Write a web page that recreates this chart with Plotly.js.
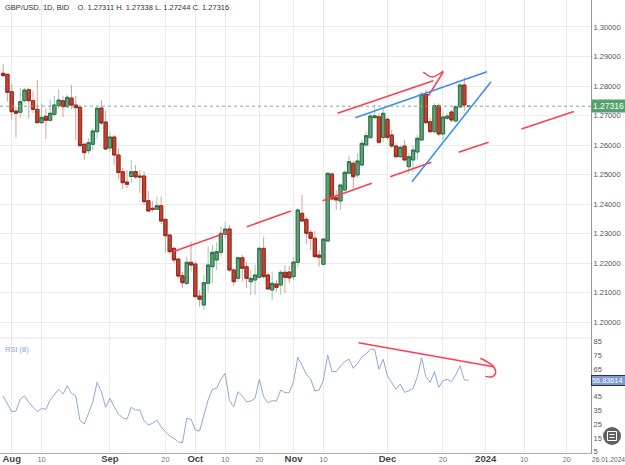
<!DOCTYPE html>
<html>
<head>
<meta charset="utf-8">
<script src="https://cdn.plot.ly/plotly-3.0.1.min.js"></script>
<style>
html,body{margin:0;padding:0;background:#fff;}
#chart{width:625px;height:465px;}
</style>
</head>
<body>
<div id="chart"></div>
<script>
// ---- Data ----
const dates = [
'2023-07-28','2023-07-31',
'2023-08-01','2023-08-02','2023-08-03','2023-08-04','2023-08-07','2023-08-08','2023-08-09','2023-08-10','2023-08-11',
'2023-08-14','2023-08-15','2023-08-16','2023-08-17','2023-08-18','2023-08-21','2023-08-22','2023-08-23','2023-08-24','2023-08-25',
'2023-08-28','2023-08-29','2023-08-30','2023-08-31',
'2023-09-01','2023-09-04','2023-09-05','2023-09-06','2023-09-07','2023-09-08','2023-09-11','2023-09-12','2023-09-13','2023-09-14','2023-09-15',
'2023-09-18','2023-09-19','2023-09-20','2023-09-21','2023-09-22','2023-09-25','2023-09-26','2023-09-27','2023-09-28','2023-09-29',
'2023-10-02','2023-10-03','2023-10-04','2023-10-05','2023-10-06','2023-10-09','2023-10-10','2023-10-11','2023-10-12','2023-10-13',
'2023-10-16','2023-10-17','2023-10-18','2023-10-19','2023-10-20','2023-10-23','2023-10-24','2023-10-25','2023-10-26','2023-10-27',
'2023-10-30','2023-10-31',
'2023-11-01','2023-11-02','2023-11-03','2023-11-06','2023-11-07','2023-11-08','2023-11-09','2023-11-10','2023-11-13','2023-11-14',
'2023-11-15','2023-11-16','2023-11-17','2023-11-20','2023-11-21','2023-11-22','2023-11-23','2023-11-24','2023-11-27','2023-11-28',
'2023-11-29','2023-11-30',
'2023-12-01','2023-12-04','2023-12-05','2023-12-06','2023-12-07','2023-12-08','2023-12-11','2023-12-12','2023-12-13','2023-12-14',
'2023-12-15','2023-12-18','2023-12-19','2023-12-20','2023-12-21','2023-12-22','2023-12-25','2023-12-26','2023-12-27','2023-12-28'
];
const open = [1.28431,1.28397,
1.27807,1.27153,1.27108,1.27502,1.27875,1.27502,1.27210,1.26756,1.26973,
1.26837,1.27041,1.27332,1.27502,1.27298,1.27593,1.27356,1.27278,1.26024,1.25807,
1.26024,1.26451,1.27254,1.26780,
1.25898,1.26271,1.25661,1.25095,1.24746,1.24932,1.25102,1.24949,1.24949,1.24112,1.23854,
1.23820,1.23942,1.23481,1.22949,1.22498,1.22136,1.21569,1.21312,1.22024,1.21966,
1.20881,1.20576,1.21312,1.21875,1.22102,1.22363,1.22973,1.23153,1.21763,1.21481,
1.22180,1.21875,1.21366,1.21424,1.21515,1.22498,1.21593,1.21085,1.21288,1.21254,
1.21685,1.21695,
1.21536,1.22024,1.23685,1.23481,1.23041,1.22837,1.22271,1.21956,1.22746,1.25017,
1.24214,1.24102,1.24475,1.25041,1.25380,1.24983,1.25322,1.26000,1.26248,1.26925,
1.26959,1.26254,
1.26871,1.26339,1.25966,1.25603,1.25966,1.25264,1.25492,1.25763,1.26169,1.27719,
1.26790,1.26451,1.27332,1.26373,1.26905,1.27119,1.26814,1.27288,1.28034,1.27311];
const high = [1.28746,1.28407,
1.28058,1.27298,1.27942,1.27942,1.27922,1.27831,1.28203,1.27414,1.27244,
1.27549,1.27671,1.27888,1.27671,1.27695,1.28034,1.27671,1.27356,1.26092,1.26227,
1.26566,1.27298,1.27525,1.27153,
1.26441,1.26339,1.25888,1.25220,1.25153,1.25492,1.25322,1.25153,1.25095,1.24451,1.24112,
1.24248,1.24248,1.23492,1.22983,1.22553,1.22169,1.21705,1.22214,1.22722,1.22034,
1.21085,1.21593,1.22553,1.22610,1.22702,1.23231,1.23400,1.23288,1.21831,1.22214,
1.22271,1.22034,1.21763,1.21932,1.22553,1.22892,1.21661,1.21705,1.21424,1.21763,
1.21932,1.21898,
1.22203,1.23854,1.24305,1.23559,1.23119,1.23085,1.22441,1.22847,1.25075,1.25068,
1.24475,1.24702,1.25153,1.25637,1.25468,1.25719,1.26169,1.26451,1.27075,1.27356,
1.27075,1.27244,
1.26949,1.26508,1.26068,1.26000,1.26169,1.25729,1.26000,1.26339,1.27807,1.27864,
1.26915,1.27414,1.27414,1.27129,1.27075,1.27186,1.27356,1.28092,1.28305,1.27338];
const low = [1.28315,1.27468,
1.26847,1.26248,1.26905,1.27447,1.26905,1.27075,1.26736,1.26712,1.26203,
1.26790,1.26959,1.27244,1.26939,1.27244,1.27210,1.26169,1.25942,1.25492,1.25695,
1.25831,1.26227,1.26678,1.25831,
1.25763,1.25322,1.24847,1.24508,1.24542,1.24712,1.24864,1.24373,1.23966,1.23739,1.23739,
1.23797,1.23322,1.22339,1.22305,1.21990,1.21481,1.21142,1.21254,1.21705,1.20837,
1.20519,1.20407,1.21027,1.21312,1.21763,1.22214,1.22837,1.21705,1.21231,1.21366,
1.21366,1.21142,1.20915,1.20915,1.21481,1.21481,1.21085,1.20746,1.21027,1.20915,
1.20983,1.21322,
1.21424,1.21875,1.23390,1.22634,1.22441,1.22193,1.21875,1.21932,1.22722,1.24136,
1.23797,1.23797,1.24417,1.25017,1.24532,1.24881,1.25264,1.25942,1.26227,1.26915,
1.26024,1.26112,
1.26169,1.25888,1.25549,1.25549,1.25434,1.25041,1.25085,1.25492,1.26136,1.26712,
1.26407,1.26397,1.26305,1.26169,1.26847,1.26780,1.26780,1.27244,1.27153,1.27244];
const close = [1.28349,1.27786,
1.27129,1.27075,1.27468,1.27864,1.27502,1.27210,1.26756,1.26939,1.26837,
1.27075,1.27356,1.27525,1.27298,1.27617,1.27356,1.27264,1.25976,1.25739,1.26078,
1.26475,1.27244,1.26746,1.25864,
1.26271,1.25661,1.25068,1.24722,1.24668,1.25095,1.24915,1.24915,1.24078,1.23763,1.23820,
1.23942,1.23424,1.22925,1.22383,1.22102,1.21559,1.21332,1.22024,1.21932,1.20858,
1.20770,1.21332,1.21932,1.22363,1.22383,1.23007,1.23153,1.21763,1.21366,1.22180,
1.21820,1.21481,1.21481,1.21593,1.22498,1.21536,1.21119,1.21312,1.21176,1.21685,
1.21515,1.21492,
1.22034,1.23797,1.23424,1.23007,1.22837,1.22214,1.22193,1.22814,1.25041,1.24169,
1.24136,1.24644,1.25075,1.25434,1.24925,1.25458,1.26058,1.26315,1.26983,1.26993,
1.26092,1.27075,
1.26261,1.25966,1.25603,1.25922,1.25492,1.25603,1.25831,1.26227,1.27719,1.26756,
1.26451,1.27332,1.26373,1.26949,1.26983,1.26847,1.27298,1.28034,1.27356,1.27316];
const rsi = [45.4,39.6,
34.0,34.5,43.2,45.4,40.8,37.2,34.0,36.4,35.7,
42.5,46.8,50.2,46.8,52.8,47.3,45.4,27.5,25.1,32.8,
41.2,55.3,48.5,37.2,
43.7,37.6,32.3,29.6,28.5,37.2,35.2,35.2,27.5,24.3,25.6,
28.0,23.1,19.5,16.4,14.7,12.2,11.5,29.2,28.5,20.7,
20.0,30.4,42.5,50.2,50.9,57.5,61.8,42.0,37.6,48.5,
45.4,41.2,41.7,43.7,57.5,44.9,40.5,42.0,41.7,49.7,
47.8,47.8,
55.7,73.4,67.8,61.0,57.7,49.0,49.7,57.0,75.1,63.0,
63.0,67.1,70.2,72.2,65.4,69.1,73.8,75.8,79.2,79.2,
64.7,72.0,
59.9,55.0,50.2,54.1,48.0,49.2,50.9,59.3,73.1,59.3,
55.3,63.0,51.7,56.4,57.5,55.7,60.6,67.3,57.0,56.84];

const lastPrice = 1.27316;
const lastRsi = 56.83614;
const titleText = 'GBP/USD, 1D, BID\u00a0\u00a0\u00a0\u00a0O. 1.27311 H. 1.27338 L. 1.27244 C. 1.27316';

const tickDates = ['2023-08-01','2023-08-10','2023-09-01','2023-09-20','2023-09-29','2023-10-10','2023-10-20',
                   '2023-11-01','2023-11-10','2023-12-01','2023-12-20','2024-01-01','2024-01-10','2024-01-20'];
const tickLabels = ['Aug','10','Sep','20','Oct','10','20','Nov','10','Dec','20','2024','10','20'];
const majorLabels = ['Aug','Sep','Oct','Nov','Dec','2024'];
const priceTicks = [1.20,1.21,1.22,1.23,1.24,1.25,1.26,1.27,1.28,1.29,1.30];
const rsiTicks = [5,15,25,35,45,65,75,85];   // 55 sits under the RSI value box
const rangeEndLabel = '26.01.2024';

// hand-drawn trend lines (date, price)
const redLines = [
  [['2023-09-21 22:05',1.22390],['2023-10-11 01:00',1.23068]],
  [['2023-10-17 01:40',1.23231],['2023-10-31 09:20',1.23763]],
  [['2023-11-09 20:00',1.24112],['2023-11-27 07:40',1.24702]],
  [['2023-12-01 15:50',1.24925],['2023-12-15 06:30',1.25414]],
  [['2023-12-25 15:50',1.25753],['2024-01-01 16:50',1.26092]],
  [['2024-01-09 08:40',1.26542],['2024-01-21 15:50',1.27136]],
  [['2023-11-15 07:30',1.27075],['2023-12-15 17:45',1.28180]],
  [['2023-12-14 13:10',1.27661],['2023-12-20 01:40',1.28475]]
];
const redHook = [['2023-12-13 09:20',1.28475],['2023-12-15 12:00',1.28305],['2023-12-20 01:40',1.28508]];
const blueLines = [
  [['2023-11-21 10:50',1.26925],['2024-01-01 07:40',1.28485]],
  [['2023-12-08 17:45',1.24756],['2024-01-02 06:15',1.28146]]
];
const rsiLine = [['2023-11-22 05:30',84.0],['2024-01-02 20:40',66.6]];
const rsiHook = [['2023-12-30 18:00',72.7],['2024-01-02 21:00',66.6],['2024-01-03 06:30',61.5],['2024-01-02 12:00',59.3],['2023-12-31 22:20',59.6]];

// ---- axis helpers ----
const weekendBreaks = [];
for (let d = new Date(Date.UTC(2023,6,1)); d <= new Date(Date.UTC(2023,11,24)); d.setUTCDate(d.getUTCDate()+1)) {
  const wd = d.getUTCDay();
  if (wd === 0 || wd === 6) weekendBreaks.push(d.toISOString().slice(0,10));
}
const ticktext = tickLabels.map(t => majorLabels.indexOf(t) >= 0
  ? '<b>' + t + '</b>'
  : '<span style="font-size:7.5px;color:#777">' + t + '</span>');

const FONT = 'Liberation Sans, Arial, sans-serif';
const bodyHigh = open.map((o,i) => Math.max(o, close[i]));
const bodyLow = open.map((o,i) => Math.min(o, close[i]));

const traces = [];
traces.push({
  type:'candlestick', x:dates, open:open, high:high, low:low, close:close,
  increasing:{line:{color:'#9fc8ad',width:1}, fillcolor:'#9fc8ad'},
  decreasing:{line:{color:'#d9a09a',width:1}, fillcolor:'#d9a09a'},
  whiskerwidth:0, hoverinfo:'skip', xaxis:'x', yaxis:'y'
});
traces.push({
  type:'candlestick', x:dates, open:open, high:bodyHigh, low:bodyLow, close:close,
  increasing:{line:{color:'#2f6d48',width:1}, fillcolor:'#5ea377'},
  decreasing:{line:{color:'#8c2a1f',width:1}, fillcolor:'#c9412e'},
  whiskerwidth:0, hoverinfo:'skip', xaxis:'x', yaxis:'y'
});
traces.push({
  type:'scatter', mode:'lines', x:dates, y:rsi,
  line:{color:'#8ea8d8', width:1}, hoverinfo:'skip', xaxis:'x', yaxis:'y2'
});
function addLine(pts, color, yaxis, spline) {
  traces.push({type:'scatter', mode:'lines', x:pts.map(p=>p[0]), y:pts.map(p=>p[1]),
    line:{color:color, width:1.5, shape: spline ? 'spline' : 'linear'}, hoverinfo:'skip', xaxis:'x', yaxis:yaxis});
}
redLines.forEach(l => addLine(l, '#ff3d4f', 'y'));
addLine(redHook, '#ff3d4f', 'y', true);
blueLines.forEach(l => addLine(l, '#3a8df2', 'y'));
addLine(rsiLine, '#ff3d4f', 'y2');
addLine(rsiHook, '#ff3d4f', 'y2', true);

const PW = 591, PH = 453;
const split = 1 - 338/PH;
const layout = {
  width:625, height:465,
  margin:{l:0, r:34, t:0, b:12, pad:0},
  paper_bgcolor:'#ffffff', plot_bgcolor:'#ffffff',
  showlegend:false, hovermode:false,
  font:{family:FONT, color:'#555'},
  boxgap:0.15, boxgroupgap:0.1,
  xaxis:{
    type:'date', anchor:'y2',
    range:['2023-07-27 06:15','2024-01-25 16:00'],
    rangebreaks:[{values:weekendBreaks}],
    rangeslider:{visible:false},
    tickmode:'array', tickvals:tickDates, ticktext:ticktext,
    tickfont:{family:FONT, size:9.5, color:'#444'},
    ticks:'', ticklabelstandoff:-3, showgrid:true, gridcolor:'#ebebeb', gridwidth:1,
    showline:true, linecolor:'#aaaaaa', linewidth:1, zeroline:false
  },
  yaxis:{
    domain:[split,1], range:[1.19458,1.30915], side:'right', anchor:'x',
    tickmode:'array', tickvals:priceTicks, ticktext:priceTicks.map(v=>v.toFixed(5)),
    tickfont:{family:FONT, size:7.5, color:'#555'}, ticks:'',
    showgrid:true, gridcolor:'#ececec', gridwidth:1,
    showline:true, linecolor:'#999999', linewidth:1, zeroline:false
  },
  yaxis2:{
    domain:[0,split], range:[4.06,87.4], side:'right', anchor:'x',
    tickmode:'array', tickvals:rsiTicks, ticktext:rsiTicks.map(String),
    tickfont:{family:FONT, size:7.5, color:'#555'}, ticks:'',
    showgrid:false, showline:true, linecolor:'#999999', linewidth:1, zeroline:false
  },
  shapes:[
    {type:'line', xref:'paper', yref:'y', x0:0, x1:1, y0:lastPrice, y1:lastPrice,
     line:{color:'#86a596', width:1, dash:'dot'}},
    {type:'line', xref:'paper', yref:'paper', x0:0, x1:1, y0:split, y1:split,
     line:{color:'#e4e4e4', width:1}},
    {type:'circle', xref:'paper', yref:'paper', x0:603/PW, x1:621/PW, y0:1-445/PH, y1:1-427/PH,
     fillcolor:'rgba(80,80,80,0.9)', line:{width:0}},
    {type:'rect', xref:'paper', yref:'paper', x0:607.5/PW, x1:616.5/PW, y0:1-440.5/PH, y1:1-431.5/PH,
     line:{color:'#ffffff', width:1}},
    {type:'line', xref:'paper', yref:'paper', x0:609.5/PW, x1:614.5/PW, y0:1-434.5/PH, y1:1-434.5/PH,
     line:{color:'#ffffff', width:1}},
    {type:'line', xref:'paper', yref:'paper', x0:609.5/PW, x1:614.5/PW, y0:1-437.5/PH, y1:1-437.5/PH,
     line:{color:'#ffffff', width:1}}
  ],
  annotations:[
    {xref:'paper', yref:'paper', x:3/PW, y:1-8/PH, xanchor:'left', yanchor:'middle', showarrow:false,
     text:titleText, font:{family:FONT, size:7.5, color:'#333'}},
    {xref:'paper', yref:'paper', x:3/PW, y:1-349/PH, xanchor:'left', yanchor:'middle', showarrow:false,
     text:'RSI (8)', font:{family:FONT, size:7.5, color:'#8aa3d0'}},
    {xref:'paper', yref:'y', x:1, y:lastPrice, xanchor:'left', yanchor:'middle', showarrow:false,
     text:lastPrice.toFixed(5), width:34, align:'left', bgcolor:'#55a06e', borderpad:1,
     font:{family:FONT, size:8.5, color:'#ffffff'}},
    {xref:'paper', yref:'y2', x:1, y:lastRsi, xanchor:'left', yanchor:'middle', showarrow:false,
     text:lastRsi.toFixed(5), width:33, align:'left', bgcolor:'#7f9bcf', bordercolor:'#333', borderwidth:1, borderpad:0,
     font:{family:FONT, size:7.3, color:'#ffffff'}},
    {xref:'paper', yref:'paper', x:1, y:1-459/PH, xanchor:'left', yanchor:'middle', showarrow:false,
     text:rangeEndLabel, xshift:-1, font:{family:FONT, size:6.6, color:'#666'}}
  ]
};
Plotly.newPlot('chart', traces, layout, {staticPlot:true, displayModeBar:false});
</script>
</body>
</html>
